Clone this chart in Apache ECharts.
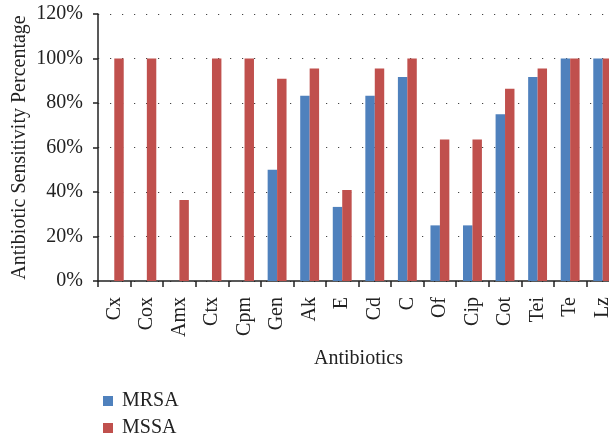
<!DOCTYPE html>
<html>
<head>
<meta charset="utf-8">
<script src="https://cdn.jsdelivr.net/npm/echarts@6/dist/echarts.min.js"></script>
<style>html,body{margin:0;padding:0;background:#fff}#c{width:609px;height:436px}</style>
</head>
<body>
<div id="c"></div>
<script>
const categories = ["Cx","Cox","Amx","Ctx","Cpm","Gen","Ak","E","Cd","C","Of","Cip","Cot","Tei","Te","Lz"];
const mrsa = [0,0,0,0,0,50,83.3,33.3,83.3,91.7,25,25,75,91.7,100,100];
const mssa = [100,100,36.4,100,100,90.9,95.5,40.9,95.5,100,63.6,63.6,86.4,95.5,100,100];
const yTicks = [0,20,40,60,80,100,120];

const FONT = "Liberation Serif";
const legendText = {fontFamily: FONT, fontSize: 20, color: '#222', padding: [0,0,0,4]};
const chart = echarts.init(document.getElementById('c'), null, {renderer:'canvas'});
chart.setOption({
  animation: false,
  backgroundColor: '#fff',
  textStyle: {fontFamily: FONT},
  grid: {left: 98, right: -10, top: 14, bottom: 155, containLabel: false, outerBoundsMode: 'none'},
  legend: [
    {orient: 'vertical', left: 98, top: 386, itemWidth: 10, itemHeight: 10, icon: 'rect',
     textStyle: legendText, data: ['MRSA']},
    {orient: 'vertical', left: 98, top: 413, itemWidth: 10, itemHeight: 10, icon: 'rect',
     textStyle: legendText, data: ['MSSA']}
  ],
  xAxis: {
    type: 'category', data: categories,
    name: 'Antibiotics', nameLocation: 'middle', nameGap: 68,
    nameTextStyle: {fontFamily: FONT, fontSize: 20, color: '#222'},
    axisLine: {lineStyle: {color: '#222', width: 1.5}},
    axisTick: {show: true, length: 6, alignWithLabel: false, lineStyle: {color: '#222', width: 1.5}},
    axisLabel: {rotate: 90, margin: 16, fontFamily: FONT, fontSize: 20, color: '#222', interval: 0},
    splitLine: {show: false}
  },
  yAxis: {
    type: 'value', min: yTicks[0], max: yTicks[yTicks.length-1], interval: 20,
    name: 'Antibiotic Sensitivity Percentage', nameLocation: 'middle', nameGap: 68, nameRotate: 90,
    nameMoveOverlap: false,
    nameTextStyle: {fontFamily: FONT, fontSize: 20, color: '#222'},
    axisLine: {show: true, lineStyle: {color: '#222', width: 1.5}},
    axisTick: {show: true, length: 5, lineStyle: {color: '#222', width: 1.5}},
    axisLabel: {margin: 15, fontFamily: FONT, fontSize: 20, color: '#222', formatter: '{value}%'},
    splitLine: {show: true, lineStyle: {color: '#444', width: 1.2, type: [1.2, 10.8]}}
  },
  series: [
    {name: 'MRSA', type: 'bar', data: mrsa, barGap: '0%', barCategoryGap: '42%', itemStyle: {color: '#4F81BD'}},
    {name: 'MSSA', type: 'bar', data: mssa, barGap: '0%', barCategoryGap: '42%', itemStyle: {color: '#C0504D'}}
  ]
});
</script>
</body>
</html>
